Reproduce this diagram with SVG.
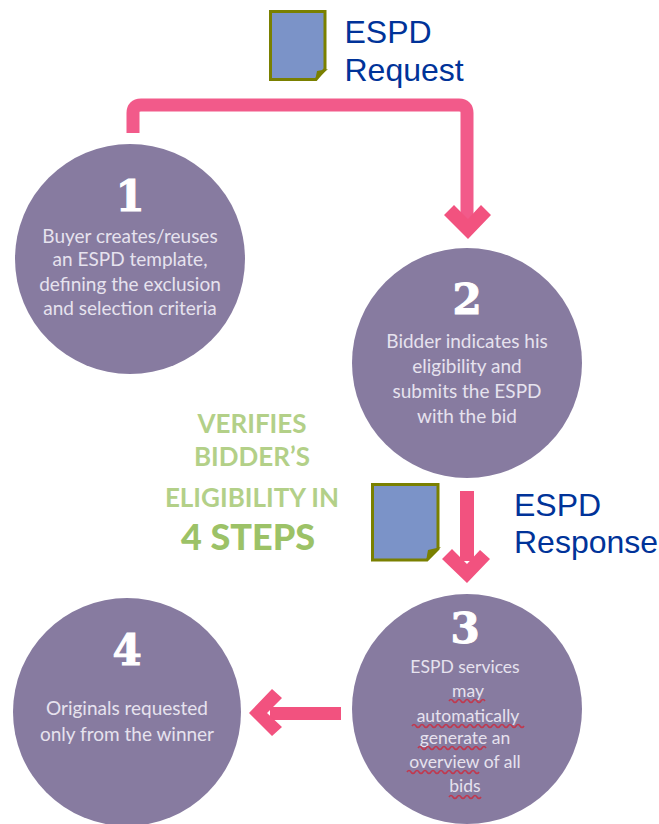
<svg xmlns="http://www.w3.org/2000/svg" width="659" height="824" viewBox="0 0 659 824">
<style>
.c{fill:#877ba0}
.n{font-family:"DejaVu Serif",serif;font-weight:700;font-size:42px;fill:#fff;stroke:#fff;stroke-width:1;text-anchor:middle}
.b{font-family:Lato,"Open Sans",sans-serif;font-size:19px;fill:#e6e2ee;text-anchor:middle}
.s{font-size:17.5px}
.g{font-family:Lato,"Open Sans",sans-serif;font-weight:700;font-size:26px;fill:#b3d088;text-anchor:middle}
.l{font-family:"Liberation Sans",Arial,sans-serif;font-size:32px;fill:#003399}
.line{fill:none;stroke:#f25a8a;stroke-width:13}
.head{fill:#f2527f}
.doc{fill:#7b93c8;stroke:#7a8000;stroke-width:3}
.fold{fill:#7a8000}
.sq{fill:none;stroke:#c0394f;stroke-width:1.6}
</style>
<rect width="659" height="824" fill="#fff"/>
<g id="connectors">
<path class="line" d="M133 133V113Q133 105 141 105H459Q467 105 467 113V222"/>
<path class="head" d="M444 215L454 205L468 219L481 205L491 215L468 239Z"/>
<rect class="head" x="460" y="491" width="14" height="70"/>
<path class="head" d="M442 559L452 549L467 564L480 550L490 559L467 583Z"/>
<rect class="head" x="270" y="707" width="71" height="13"/>
<path class="head" d="M249 713L272 689L282 698L267 713L282 727L272 736Z"/>
</g>
<g id="node-1">
<circle class="c" cx="130" cy="259" r="115"/>
<text class="n" x="130" y="211">1</text>
<text class="b" x="130" y="243">Buyer creates/reuses</text>
<text class="b" x="130" y="266">an ESPD template,</text>
<text class="b" x="130" y="291">defining the exclusion</text>
<text class="b" x="130" y="315">and selection criteria</text>
</g>
<g id="node-2">
<circle class="c" cx="467" cy="363" r="115"/>
<text class="n" x="467" y="314">2</text>
<text class="b" x="467" y="348">Bidder indicates his</text>
<text class="b" x="467" y="373">eligibility and</text>
<text class="b" x="467" y="398">submits the ESPD</text>
<text class="b" x="467" y="423">with the bid</text>
</g>
<g id="node-3">
<circle class="c" cx="467" cy="709" r="115"/>
<text class="n" x="465" y="643">3</text>
<text class="b s" x="465" y="673">ESPD services</text>
<text class="b s" x="468" y="697">may</text>
<text class="b s" x="468" y="722">automatically</text>
<text class="b s" x="465" y="744">generate an</text>
<text class="b s" x="465" y="768">overview of all</text>
<text class="b s" x="465" y="792">bids</text>
<path class="sq" d="M449 701q2-3 4 0t4 0t4 0t4 0t4 0t4 0t4 0t4 0t4 0"/>
<path class="sq" d="M412 726q2-3 4 0t4 0t4 0t4 0t4 0t4 0t4 0t4 0t4 0t4 0t4 0t4 0t4 0t4 0t4 0t4 0t4 0t4 0t4 0t4 0t4 0t4 0t4 0t4 0t4 0t4 0t4 0t4 0"/>
<path class="sq" d="M418 748q2-3 4 0t4 0t4 0t4 0t4 0t4 0t4 0t4 0t4 0t4 0t4 0t4 0t4 0t4 0t4 0t4 0t4 0"/>
<path class="sq" d="M407 772q2-3 4 0t4 0t4 0t4 0t4 0t4 0t4 0t4 0t4 0t4 0t4 0t4 0t4 0t4 0t4 0t4 0t4 0t4 0"/>
<path class="sq" d="M449 797q2-3 4 0t4 0t4 0t4 0t4 0t4 0t4 0t4 0"/>
</g>
<g id="node-4">
<circle class="c" cx="127" cy="712" r="114"/>
<text class="n" x="127" y="665">4</text>
<text class="b" x="127" y="715">Originals requested</text>
<text class="b" x="127" y="741">only from the winner</text>
</g>
<g id="caption">
<text class="g" x="252" y="433">VERIFIES</text>
<text class="g" x="252" y="466">BIDDER’S</text>
<text class="g" x="252" y="507">ELIGIBILITY IN</text>
<text class="g" x="248" y="550" style="font-size:36px;font-weight:900;fill:#9cc267">4 STEPS</text>
</g>
<g id="doc-request">
<path class="doc" d="M270.500 11.500H325V69L316 79.500H270.500Z"/>
<path class="fold" d="M315 81L317 71L328 69Z"/>
<text class="l" x="344.500" y="43">ESPD</text>
<text class="l" x="344.500" y="81">Request</text>
</g>
<g id="doc-response">
<path class="doc" d="M372.500 484.500H438V549L427 560H372.500Z"/>
<path class="fold" d="M426 561L428 550L441 547Z"/>
<text class="l" x="514" y="516">ESPD</text>
<text class="l" x="514" y="553">Response</text>
</g>
</svg>
